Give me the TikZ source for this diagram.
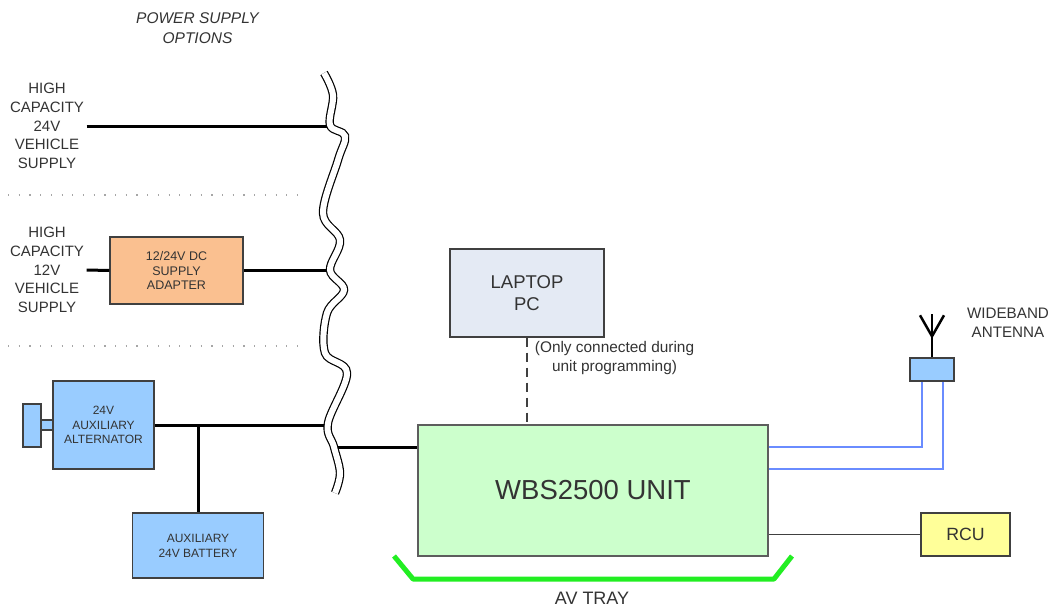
\documentclass[tikz,border=0pt]{standalone}
\usepackage{fontspec}
\setmainfont{Liberation Sans}
\definecolor{txt}{HTML}{333333}
\definecolor{edge}{HTML}{404040}
\definecolor{adapt}{HTML}{FAC090}
\definecolor{aux}{HTML}{99CCFF}
\definecolor{unit}{HTML}{CCFFCC}
\definecolor{pc}{HTML}{E4EAF4}
\definecolor{rcu}{HTML}{FFFF99}
\definecolor{rf}{HTML}{6A8CFF}
\definecolor{tray}{HTML}{22EE22}
\begin{document}
\begin{tikzpicture}[x=1pt,y=-1pt,
  box/.style={draw=edge,line width=1.4pt,inner sep=0pt,align=center,text=txt},
  lbl/.style={inner sep=0pt,align=center,text=txt},
  feed/.style={line width=3pt},
  sep/.style={draw=gray!70,line width=1.2pt,dash pattern=on 1.2pt off 9.5pt},
  brk/.style={draw=black,line width=1.2pt,double=white,double distance=6pt},
  wire/.style={draw=rf,line width=1.8pt},
  mast/.style={line width=2.5pt},
]
\useasboundingbox (0,0) rectangle (1051,607);

          \node[lbl,font=\fontsize{15.5}{20}\itshape\selectfont] (PSO) at (197.5,28.5) {POWER SUPPLY\\OPTIONS};
          \node[lbl,font=\fontsize{15}{18.75}\selectfont] (S24) at (47,126) {HIGH\\CAPACITY\\24V\\VEHICLE\\SUPPLY};
          \node[lbl,font=\fontsize{15}{18.75}\selectfont] (S12) at (47,270) {HIGH\\CAPACITY\\12V\\VEHICLE\\SUPPLY};
          \node[box,fill=adapt,minimum width=133,minimum height=67,font=\fontsize{12.5}{14.5}\selectfont] (Adp) at (176.5,270.5) {12/24V DC\\SUPPLY\\ADAPTER};
          \node[box,fill=aux,minimum width=13,minimum height=10] (Shaft) at (47.5,425) {};
          \node[box,fill=aux,minimum width=18,minimum height=43] (Pul) at (32,425.5) {};
          \node[box,fill=aux,minimum width=101,minimum height=88,font=\fontsize{12}{14.75}\selectfont] (Alt) at (103.5,425) {24V\\AUXILIARY\\ALTERNATOR};
          \node[box,fill=aux,minimum width=131,minimum height=65,font=\fontsize{12}{15}\selectfont] (Bat) at (198,545.5) {AUXILIARY\\24V BATTERY};
          \node[box,fill=unit,draw=edge!85,minimum width=350,minimum height=131,font=\fontsize{27.5}{33}\selectfont] (WBS) at (593,490.5) {WBS2500 UNIT};
          \node[box,fill=pc,minimum width=154,minimum height=88,font=\fontsize{18.5}{22}\selectfont] (Lap) at (527,293) {LAPTOP\\PC};
          \node[lbl,font=\fontsize{15.4}{19}\selectfont] (Note) at (614.5,358.5) {(Only connected during\\unit programming)};
          \node[box,fill=aux,minimum width=44,minimum height=23] (Ant) at (932,369.5) {};
          \node[lbl,font=\fontsize{15.2}{19}\selectfont] (AntL) at (1008,323) {WIDEBAND\\ANTENNA};
          \node[box,fill=rcu,minimum width=89,minimum height=43,font=\fontsize{17.7}{20}\selectfont] (RCU) at (965.5,534.5) {RCU};
          \node[lbl,font=\fontsize{18}{20}\selectfont] (Tray) at (592,598) {AV TRAY};

          % break points and cable bends
          \coordinate (B1) at (330,126);
          \coordinate (B2) at (330,270.5);
          \coordinate (B3) at (328,425);
          \coordinate (B4) at (333,447);
          \coordinate (J) at (198,425);
          \coordinate (W1) at (922,447);
          \coordinate (W2) at (943,469);

          \draw[sep] (8,195) -- (307,195);
          \draw[sep] (8,346) -- (307,346);

          \draw[feed] ([xshift=2.5pt]S24.east) -- (B1);
          \draw[feed] ([xshift=2.5pt]S12.east) -- (Adp.west);
          \draw[feed] (Adp.east) -- (B2);
          \draw[feed] (Alt.east) -- (B3);
          \draw[feed] (J) -- (J |- Bat.north);
          \draw[feed] (B4) -- (B4 -| WBS.west);

          \draw[brk] plot[smooth,tension=0.6] coordinates {(324,73) (333,95) (330,125) (345,136) (338,160) (323,213) (340,240) (330,270) (344,290) (327,313) (325,353) (347,373) (328,423) (334,447) (340,473) (335,493)};

          \draw[draw=edge,line width=2pt,dash pattern=on 9pt off 6pt] (Lap.south) -- (Lap.south |- WBS.north);
          \draw[wire] (W1 -| WBS.east) -- (W1) -- (W1 |- Ant.south);
          \draw[wire] (W2 -| WBS.east) -- (W2) -- (W2 |- Ant.south);
          \draw[draw=edge,line width=1.5pt] (RCU.west -| WBS.east) -- (RCU.west);

          \draw[mast] (Ant.north) -- ++(0,-43);
          \draw[mast] (Ant.north) ++(-12,-42) -- ++(12,21) -- ++(12,-21);
          \draw[tray,line width=5pt,line join=round] (394,556) -- (413,579) -- (774,579) -- (792,556);

        \end{tikzpicture}
\end{document}
